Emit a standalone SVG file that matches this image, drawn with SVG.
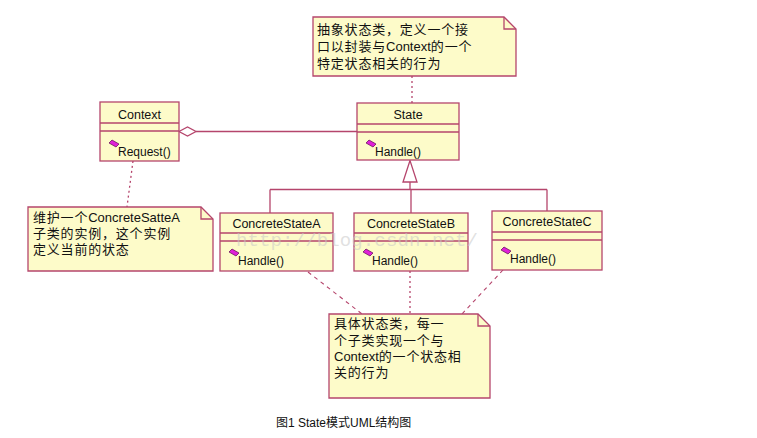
<svg xmlns="http://www.w3.org/2000/svg" width="757" height="438" viewBox="0 0 757 438">
<style>
.box{fill:#fdfbc9;stroke:#b5456c;stroke-width:1.3}
.ln{stroke:#b5456c;stroke-width:1.3;fill:none}
.dot{stroke:#b5456c;stroke-width:1.3;fill:none;stroke-dasharray:2 3}
.dash{stroke:#b5456c;stroke-width:1.1;fill:none;stroke-dasharray:4 4}
.nm{font-family:"Liberation Sans","Noto Sans CJK SC",sans-serif;font-size:12.5px;fill:#111;text-anchor:middle}
.op{font-family:"Liberation Sans","Noto Sans CJK SC",sans-serif;font-size:12px;fill:#111}
.nt{font-family:"Liberation Sans","Noto Sans CJK SC",sans-serif;font-size:13px;fill:#111;letter-spacing:0.8px}
.lat{letter-spacing:0}
.cap{font-family:"Liberation Sans","Noto Sans CJK SC",sans-serif;font-size:12px;fill:#111}
.ic{fill:#e020d8;stroke:#5a0a50;stroke-width:0.7}
</style>
<defs>
<path id="icon" class="ic" d="M0,3 L3,0 L10,4 L7,7 Z"/>
</defs>
<rect width="757" height="438" fill="#ffffff"/>

<g id="connectors">
<path class="ln" d="M196,131.5 L357,131.5"/>
<path d="M179,131.5 L187.5,127 L196,131.5 L187.5,136 Z" fill="#ffffff" stroke="#b5456c" stroke-width="1.3"/>
<path class="ln" d="M410,182 L410,189.5 M270,189.5 L547,189.5 M270,189.5 L270,213 M411,189.5 L411,213 M547,189.5 L547,211"/>
<path d="M410,160.5 L403,182 L417,182 Z" fill="#ffffff" stroke="#b5456c" stroke-width="1.3"/>
<path class="dot" d="M412,76 L412,103"/>
<path class="dot" d="M133,161 L127,207"/>
<path class="dash" d="M308,272 L362,314"/>
<path class="dot" d="M410,271 L410,314"/>
<path class="dash" d="M503,270 L462,314"/>
</g>

<g id="note-state">
<path class="box" d="M313,17 L504,17 L516,29 L516,76 L313,76 Z"/>
<path class="ln" d="M504,17 L504,29 L516,29"/>
<text class="nt" x="317" y="34">抽象状态类，定义一个接</text>
<text class="nt" x="317" y="51">口以封装与<tspan class="lat">Context</tspan>的一个</text>
<text class="nt" x="317" y="68">特定状态相关的行为</text>
</g>

<g id="context">
<rect class="box" x="100" y="102" width="79" height="59"/>
<path class="ln" d="M100,123 L179,123 M100,131 L179,131"/>
<text class="nm" x="139.5" y="119">Context</text>
<use href="#icon" x="109" y="140"/>
<text class="op" x="118" y="156">Request()</text>
</g>

<g id="state">
<rect class="box" x="357" y="103" width="102" height="57"/>
<path class="ln" d="M357,124 L459,124 M357,132 L459,132"/>
<text class="nm" x="408" y="119">State</text>
<use href="#icon" x="366" y="140"/>
<text class="op" x="375" y="156">Handle()</text>
</g>

<g id="note-context">
<path class="box" d="M28,207 L201,207 L213,219 L213,271 L28,271 Z"/>
<path class="ln" d="M201,207 L201,219 L213,219"/>
<text class="nt" x="33" y="222">维护一个<tspan class="lat">ConcreteSatteA</tspan></text>
<text class="nt" x="33" y="238">子类的实例，这个实例</text>
<text class="nt" x="33" y="254">定义当前的状态</text>
</g>

<g id="concreteA">
<rect class="box" x="220" y="213" width="113" height="58"/>
<path class="ln" d="M220,233 L333,233 M220,241 L333,241"/>
<text class="nm" x="276.5" y="228">ConcreteStateA</text>
<use href="#icon" x="229" y="249"/>
<text class="op" x="238" y="265">Handle()</text>
</g>

<g id="concreteB">
<rect class="box" x="354" y="213" width="114" height="58"/>
<path class="ln" d="M354,233 L468,233 M354,241 L468,241"/>
<text class="nm" x="411" y="228">ConcreteStateB</text>
<use href="#icon" x="363" y="249"/>
<text class="op" x="372" y="265">Handle()</text>
</g>

<g id="concreteC">
<rect class="box" x="492" y="211" width="110" height="59"/>
<path class="ln" d="M492,232 L602,232 M492,240 L602,240"/>
<text class="nm" x="547" y="226">ConcreteStateC</text>
<use href="#icon" x="501" y="247"/>
<text class="op" x="510" y="263">Handle()</text>
</g>

<g id="note-concrete">
<path class="box" d="M329,314 L478,314 L490,326 L490,398 L329,398 Z"/>
<path class="ln" d="M478,314 L478,326 L490,326"/>
<text class="nt" x="334" y="328">具体状态类，每一</text>
<text class="nt" x="334" y="345">个子类实现一个与</text>
<text class="nt" x="334" y="361"><tspan class="lat">Context</tspan>的一个状态相</text>
<text class="nt" x="334" y="377">关的行为</text>
</g>

<text x="236" y="246" font-family="Liberation Mono, monospace" font-size="19" fill="#c8c8c8" fill-opacity="0.55" textLength="242">http://blog.csdn.net/</text>

<text class="cap" x="276" y="427">图1 State模式UML结构图</text>
</svg>
